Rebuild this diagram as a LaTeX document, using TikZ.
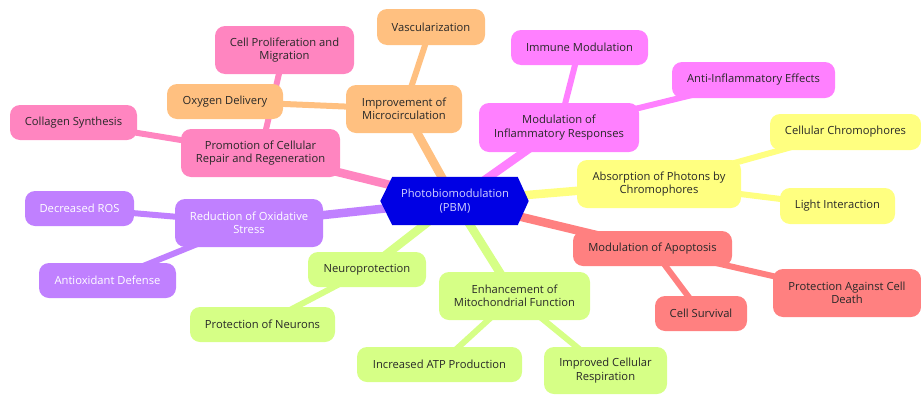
\documentclass[tikz,border=0pt]{standalone}
\usepackage{fontspec}
\setmainfont{Open Sans}
\usetikzlibrary{backgrounds}

\definecolor{pbmColor}{RGB}{0,0,228}
\definecolor{pbmText}{RGB}{210,210,255}
\definecolor{darkText}{RGB}{40,40,40}
\definecolor{repairColor}{RGB}{255,133,192}
\definecolor{microColor}{RGB}{255,192,128}
\definecolor{inflamColor}{RGB}{255,128,255}
\definecolor{absorbColor}{RGB}{255,255,128}
\definecolor{apopColor}{RGB}{255,128,128}
\definecolor{mitoColor}{RGB}{214,255,134}
\definecolor{oxColor}{RGB}{192,128,255}
\def\mmFont{\fontsize{11.2}{13.4}\selectfont}

\begin{document}
\begin{tikzpicture}[x=1pt, y=-1pt,
    topic/.style={fill=#1, rounded corners=10pt, align=center, inner sep=0pt,
        text=darkText, font=\mmFont},
    size/.style 2 args={minimum width=#1pt, minimum height=#2pt},
    trunk/.style={draw=#1, line width=8.5pt},
    twig/.style={draw=#1, line width=6pt}]
    % Define canvas
    \useasboundingbox (0,0) rectangle (921,394);

    % centre
    \node[size={125}{48}, text=pbmText, align=center, font=\mmFont] (pbm) at (455,201) {Photobiomodulation\\(PBM)};

    % cellular repair
    \node[topic=repairColor, size={159}{48}] (repair) at (260.5,153) {Promotion of Cellular\\Repair and Regeneration};
    \node[topic=repairColor, size={127}{35}] (collagen) at (73.5,122.5) {Collagen Synthesis};
    \node[topic=repairColor, size={139}{48}] (prolif) at (284.5,50) {Cell Proliferation and\\Migration};

    % microcirculation
    \node[topic=microColor, size={116}{48}] (micro) at (404,109) {Improvement of\\Microcirculation};
    \node[topic=microColor, size={116}{35}] (oxygen) at (225,101.5) {Oxygen Delivery};
    \node[topic=microColor, size={108}{36}] (vasc) at (431,27) {Vascularization};

    % inflammation
    \node[topic=inflamColor, size={160}{49}] (inflam) at (559,127.5) {Modulation of\\Inflammatory Responses};
    \node[topic=inflamColor, size={137}{35}] (immune) at (579.5,47.5) {Immune Modulation};
    \node[topic=inflamColor, size={163}{36}] (antiinfl) at (753.5,80) {Anti-Inflammatory Effects};

    % absorption
    \node[topic=absorbColor, size={164}{48}] (absorb) at (659,184) {Absorption of Photons by\\Chromophores};
    \node[topic=absorbColor, size={151}{36}] (chromo) at (845.5,132) {Cellular Chromophores};
    \node[topic=absorbColor, size={115}{36}] (light) at (837.5,206) {Light Interaction};

    % apoptosis
    \node[topic=apopColor, size={159}{35}] (apop) at (652.5,248.5) {Modulation of Apoptosis};
    \node[topic=apopColor, size={148}{48}] (death) at (847,293) {Protection Against Cell\\Death};
    \node[topic=apopColor, size={92}{35}] (survival) at (701,313.5) {Cell Survival};

    % mitochondria
    \node[topic=mitoColor, size={151}{48}] (mito) at (514.5,296) {Enhancement of\\Mitochondrial Function};
    \node[topic=mitoColor, size={165}{35}] (atp) at (439.5,364.5) {Increased ATP Production};
    \node[topic=mitoColor, size={123}{47}] (resp) at (605.5,370.5) {Improved Cellular\\Respiration};

    % neuroprotection
    \node[topic=mitoColor, size={118}{35}] (neuro) at (367,269.5) {Neuroprotection};
    \node[topic=mitoColor, size={145}{35}] (neurons) at (262.5,324.5) {Protection of Neurons};

    % oxidative stress
    \node[topic=oxColor, size={148}{48}, text=white] (oxstress) at (249,223) {Reduction of Oxidative\\Stress};
    \node[topic=oxColor, size={109}{35}, text=white] (ros) at (79.5,208.5) {Decreased ROS};
    \node[topic=oxColor, size={137}{35}, text=white] (antiox) at (107.5,280.5) {Antioxidant Defense};

    \begin{pgfonlayer}{background}
        % branches
        \draw[trunk=repairColor] (pbm.center) -- (repair.center);
        \draw[trunk=microColor] (pbm.center) -- (micro.center);
        \draw[trunk=inflamColor] (pbm.center) -- (inflam.center);
        \draw[trunk=absorbColor] (pbm.center) -- (absorb.center);
        \draw[trunk=apopColor] (pbm.center) -- (apop.center);
        \draw[trunk=mitoColor] (pbm.center) -- (mito.center);
        \draw[trunk=mitoColor] (pbm.center) -- (neuro.center);
        \draw[trunk=oxColor] (pbm.center) -- (oxstress.center);

        % leaves
        \draw[twig=repairColor] (repair.center) -- (collagen.center);
        \draw[twig=repairColor] (repair.center) -- (prolif.center);
        \draw[twig=microColor] (micro.center) -- (oxygen.center);
        \draw[twig=microColor] (micro.center) -- (vasc.center);
        \draw[twig=inflamColor] (inflam.center) -- (immune.center);
        \draw[twig=inflamColor] (inflam.center) -- (antiinfl.center);
        \draw[twig=absorbColor] (absorb.center) -- (chromo.center);
        \draw[twig=absorbColor] (absorb.center) -- (light.center);
        \draw[twig=apopColor] (apop.center) -- (death.center);
        \draw[twig=apopColor] (apop.center) -- (survival.center);
        \draw[twig=mitoColor] (mito.center) -- (atp.center);
        \draw[twig=mitoColor] (mito.center) -- (resp.center);
        \draw[twig=mitoColor] (neuro.center) -- (neurons.center);
        \draw[twig=oxColor] (oxstress.center) -- (ros.center);
        \draw[twig=oxColor] (oxstress.center) -- (antiox.center);

        % hexagon
        \fill[pbmColor] (pbm.north west) -- (pbm.north east) -- ([xshift=11pt]pbm.east)
            -- (pbm.south east) -- (pbm.south west) -- ([xshift=-12pt]pbm.west) -- cycle;
    \end{pgfonlayer}
\end{tikzpicture}
\end{document}
